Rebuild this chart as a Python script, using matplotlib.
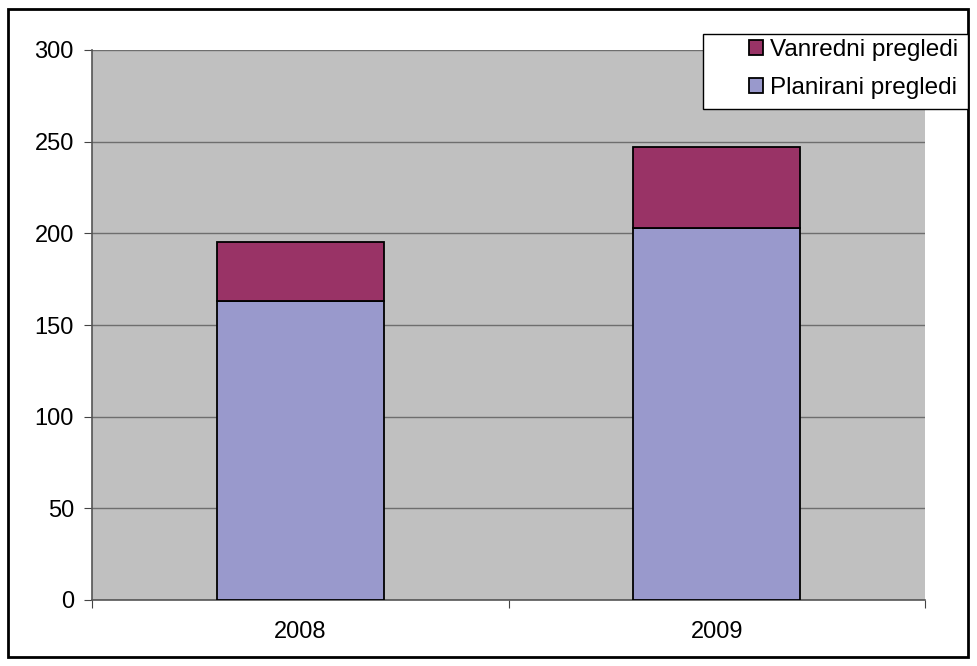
import matplotlib.pyplot as plt
from matplotlib.patches import Rectangle

plt.rcParams['font.family'] = ['Liberation Sans', 'DejaVu Sans']

years = ["2008", "2009"]
planirani = [163, 203]
vanredni = [32, 44]

W, H = 977, 666
fig = plt.figure(figsize=(W / 100, H / 100), dpi=100)
ax = fig.add_axes([92 / W, 66 / H, 833 / W, 550 / H])
ax.set_facecolor("#C0C0C0")

x = range(len(years))
ax.bar(x, planirani, width=0.4, color="#9999CC", edgecolor="black", linewidth=1.3,
       label="Planirani pregledi", zorder=3)
ax.bar(x, vanredni, width=0.4, bottom=planirani, color="#993366", edgecolor="black",
       linewidth=1.3, label="Vanredni pregledi", zorder=3)

ax.set_xlim(-0.5, 1.5)
ax.set_ylim(0, 300)
ax.set_yticks(range(0, 301, 50))
ax.yaxis.grid(True, color="#6E6E6E", linewidth=1, zorder=0)

# category separators as major ticks, labels on minor ticks
ax.set_xticks([-0.5, 0.5, 1.5])
ax.set_xticklabels([])
ax.set_xticks(list(x), minor=True)
ax.set_xticklabels(years, minor=True)
ax.tick_params(axis="x", which="minor", length=0, pad=15, labelsize=17)
ax.tick_params(axis="x", which="major", length=6, direction="out", color="#444444")
ax.tick_params(axis="y", length=6, direction="out", color="#444444", labelsize=17, pad=7)

for s in ["top", "right"]:
    ax.spines[s].set_visible(False)
for s in ["left", "bottom"]:
    ax.spines[s].set_color("#555555")
    ax.spines[s].set_linewidth(1.2)

# legend box drawn separately so it can be as wide as the original
fig.patches.append(Rectangle((703 / W, 1 - 109 / H), 265 / W, 75 / H,
                             transform=fig.transFigure, facecolor="white",
                             edgecolor="black", linewidth=1, zorder=2))
handles, labels = ax.get_legend_handles_labels()
leg = fig.legend(handles[::-1], labels[::-1], loc="upper right",
                 bbox_to_anchor=(958 / W, 1 - 39 / H), borderaxespad=0,
                 borderpad=0, fontsize=17.5, frameon=False,
                 handlelength=0.55, handleheight=0.55, handletextpad=0.3,
                 labelspacing=0.65)

# outer chart border
fig.patches.append(Rectangle((8 / W, 9 / H), 960 / W, 648 / H,
                             transform=fig.transFigure, fill=False,
                             edgecolor="black", linewidth=2))

fig.savefig("out.png", dpi=100, facecolor="white")
